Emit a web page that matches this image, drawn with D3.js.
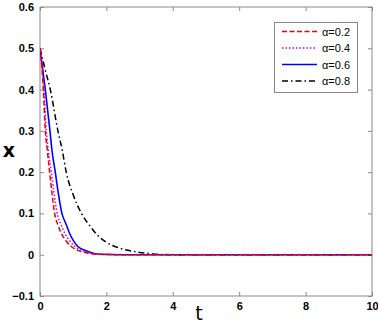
<!DOCTYPE html>
<html><head><meta charset="utf-8">
<script src="https://cdn.jsdelivr.net/npm/d3@7"></script>
<style>
html,body{margin:0;padding:0;background:#fff;}
svg{display:block;font-family:"Liberation Sans",Arial,sans-serif;}
</style></head>
<body><svg id="c" width="378" height="323"></svg>
<script>
const xTicks = [0, 2, 4, 6, 8, 10];
const yTicks = [-0.1, 0, 0.1, 0.2, 0.3, 0.4, 0.5, 0.6];
const labels = ["α=0.2", "α=0.4", "α=0.6", "α=0.8"];

const t02 = [0, 0.04, 0.1, 0.16, 0.22, 0.29, 0.36, 0.44, 0.54, 0.64, 0.8, 0.94, 1.23, 1.75, 2.5, 4, 6, 8, 10];
const x02 = [0.5, 0.47, 0.4, 0.3, 0.253, 0.2, 0.15, 0.1, 0.072, 0.052, 0.032, 0.02, 0.008, 0.001, 0, 0, 0, 0, 0];
const t04 = [0, 0.04, 0.12, 0.19, 0.25, 0.34, 0.42, 0.52, 0.62, 0.75, 0.9, 1.05, 1.35, 1.8, 2.5, 4, 6, 8, 10];
const x04 = [0.5, 0.47, 0.4, 0.3, 0.253, 0.2, 0.15, 0.1, 0.075, 0.052, 0.033, 0.02, 0.008, 0.001, 0, 0, 0, 0, 0];
const t06 = [0, 0.08, 0.16, 0.3, 0.36, 0.46, 0.55, 0.66, 0.78, 0.89, 1.14, 1.44, 1.8, 2.5, 4, 6, 8, 10];
const x06 = [0.5, 0.45, 0.4, 0.3, 0.253, 0.2, 0.15, 0.1, 0.075, 0.052, 0.02, 0.008, 0.001, 0, 0, 0, 0, 0];
const t08 = [0, 0.15, 0.31, 0.54, 0.67, 0.79, 1.0, 1.25, 1.5, 1.7, 2.0, 2.4, 2.9, 3.4, 4, 6, 8, 10];
const x08 = [0.5, 0.45, 0.4, 0.3, 0.253, 0.2, 0.145, 0.1, 0.07, 0.05, 0.03, 0.016, 0.007, 0.002, 0, 0, 0, 0];

const series = [
  {label: labels[0], t: t02, v: x02, color: "#e8000b", dash: "5,2.5", w: 1.5},
  {label: labels[1], t: t04, v: x04, color: "#cc00cc", dash: "1.5,2", w: 1.5},
  {label: labels[2], t: t06, v: x06, color: "#0000ff", dash: null, w: 1.6},
  {label: labels[3], t: t08, v: x08, color: "#000000", dash: "6,3,1.5,3", w: 1.5}
];

const L = 40, R = 372, T = 7, B = 296;
const svg = d3.select("#c");
const x = d3.scaleLinear().domain([0, 10]).range([L, R]);
const y = d3.scaleLinear().domain([-0.1, 0.6]).range([B, T]);
const axisColor = "#8a8a8a";

svg.append("rect").attr("x", L).attr("y", T).attr("width", R - L).attr("height", B - T)
  .attr("fill", "#fff").attr("stroke", axisColor).attr("stroke-width", 1);

function styleAxis(g, labelsOn) {
  g.select(".domain").remove();
  g.selectAll(".tick line").attr("stroke", axisColor);
  if (!labelsOn) g.selectAll(".tick text").remove();
  else g.selectAll(".tick text").attr("fill", "#000").attr("font-weight", "bold").attr("font-size", "11px")
    .attr("font-family", "Liberation Sans, Arial, sans-serif");
}
svg.append("g").attr("transform", `translate(0,${B})`)
  .call(d3.axisBottom(x).tickValues(xTicks).tickSize(-4).tickPadding(6).tickFormat(d3.format("d")))
  .call(g => styleAxis(g, true));
svg.append("g").attr("transform", `translate(0,${T})`)
  .call(d3.axisTop(x).tickValues(xTicks).tickSize(-4).tickFormat(""))
  .call(g => styleAxis(g, false));
svg.append("g").attr("transform", `translate(${L},0)`)
  .call(d3.axisLeft(y).tickValues(yTicks).tickSize(-4).tickPadding(6).tickFormat(d => d === 0 ? "0" : d3.format(".1f")(d)))
  .call(g => styleAxis(g, true));
svg.append("g").attr("transform", `translate(${R},0)`)
  .call(d3.axisRight(y).tickValues(yTicks).tickSize(-4).tickFormat(""))
  .call(g => styleAxis(g, false));

const line = d3.line().x(d => x(d[0])).y(d => y(d[1])).curve(d3.curveMonotoneX);
svg.append("clipPath").attr("id", "clp").append("rect")
  .attr("x", L).attr("y", T).attr("width", R - L).attr("height", B - T);
const plot = svg.append("g").attr("clip-path", "url(#clp)");
series.slice().reverse().forEach(s => {
  plot.append("path").attr("d", line(s.t.map((tt, i) => [tt, s.v[i]])))
    .attr("fill", "none").attr("stroke", s.color).attr("stroke-width", s.w)
    .attr("stroke-dasharray", s.dash);
});

svg.append("text").attr("x", 199).attr("y", 320).attr("text-anchor", "middle")
  .attr("font-size", "19px").attr("font-family", "DejaVu Sans, sans-serif").text("t");
svg.append("text").attr("x", 9).attr("y", 157).attr("text-anchor", "middle")
  .attr("font-size", "19px").attr("font-weight", "bold").attr("font-family", "DejaVu Sans, sans-serif").text("x");

const lg = svg.append("g");
lg.append("rect").attr("x", 274.5).attr("y", 22.5).attr("width", 83).attr("height", 70)
  .attr("fill", "#fff").attr("stroke", axisColor).attr("stroke-width", 1);
series.forEach((s, i) => {
  const yy = 31.5 + i * 16.5;
  lg.append("line").attr("x1", 282).attr("x2", 317).attr("y1", yy).attr("y2", yy)
    .attr("stroke", s.color).attr("stroke-width", s.w).attr("stroke-dasharray", s.dash);
  lg.append("text").attr("x", 322).attr("y", yy + 4).attr("font-size", "11px").attr("fill", "#000")
    .text(s.label);
});
</script></body></html>
